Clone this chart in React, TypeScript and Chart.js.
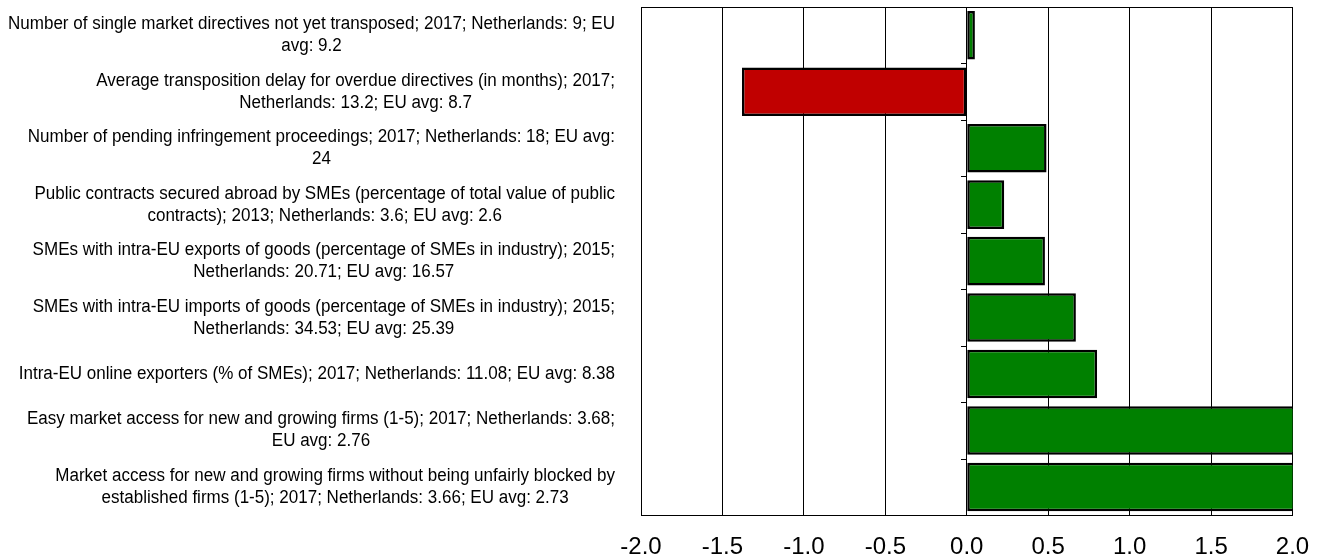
import React, { useEffect, useRef } from "react";
import { Chart, registerables } from "chart.js";

Chart.register(...registerables);

const categories: string[][] = [
  ["Number of single market directives not yet transposed; 2017; Netherlands: 9; EU", "avg: 9.2"],
  ["Average transposition delay for overdue directives (in months); 2017;", "Netherlands: 13.2; EU avg: 8.7"],
  ["Number of pending infringement proceedings; 2017; Netherlands: 18; EU avg:", "24"],
  ["Public contracts secured abroad by SMEs (percentage of total value of public", "contracts); 2013; Netherlands: 3.6; EU avg: 2.6"],
  ["SMEs with intra-EU exports of goods (percentage of SMEs in industry); 2015;", "Netherlands: 20.71; EU avg: 16.57"],
  ["SMEs with intra-EU imports of goods (percentage of SMEs in industry); 2015;", "Netherlands: 34.53; EU avg: 25.39"],
  ["Intra-EU online exporters (% of SMEs); 2017; Netherlands: 11.08; EU avg: 8.38"],
  ["Easy market access for new and growing firms (1-5); 2017; Netherlands: 3.68;", "EU avg: 2.76"],
  ["Market access for new and growing firms without being unfairly blocked by", "established firms (1-5); 2017; Netherlands: 3.66; EU avg: 2.73"],
];

const values: number[] = [0.05, -1.38, 0.49, 0.23, 0.48, 0.67, 0.8, 2.3, 2.3];

const xTickMin = -2;
const xTickMax = 2;
const xTickStep = 0.5;

const POS_COLOR = "#008000";
const NEG_COLOR = "#C00000";
const LABEL_FONT = '18px "Liberation Sans", Arial, sans-serif';
const LABEL_SCALE_X = 0.945;
const LABEL_LINE_H = 22;
const LABEL_GAP = 26;

const labelPlugin = {
  id: "catLabels",
  afterDraw(chart: any) {
    const { ctx, chartArea, scales } = chart;
    const y = scales.y;
    const x = scales.x;
    ctx.save();
    ctx.font = LABEL_FONT;
    ctx.fillStyle = "#000";
    ctx.textAlign = "center";
    ctx.textBaseline = "middle";
    const rightEdge = chartArea.left - LABEL_GAP;
    categories.forEach((lines, i) => {
      const cy = y.getPixelForValue(i);
      const w = Math.max(...lines.map((l) => ctx.measureText(l).width)) * LABEL_SCALE_X;
      const cx = rightEdge - w / 2;
      const start = cy - ((lines.length - 1) * LABEL_LINE_H) / 2;
      lines.forEach((l, j) => {
        ctx.save();
        ctx.translate(cx, start + j * LABEL_LINE_H);
        ctx.scale(LABEL_SCALE_X, 1);
        ctx.fillText(l, 0, 0);
        ctx.restore();
      });
    });
    ctx.strokeStyle = "#000";
    ctx.lineWidth = 1;
    ctx.beginPath();
    ctx.moveTo(chartArea.left, Math.round(chartArea.top) + 0.5);
    ctx.lineTo(chartArea.right, Math.round(chartArea.top) + 0.5);
    const x0 = Math.round(x.getPixelForValue(0));
    const half = (y.getPixelForValue(1) - y.getPixelForValue(0)) / 2;
    for (let i = 0; i <= categories.length; i++) {
      const ty = Math.round(y.getPixelForValue(i) - half) + 0.5;
      ctx.moveTo(x0 - 6, ty);
      ctx.lineTo(x0, ty);
    }
    ctx.stroke();
    ctx.restore();
  },
};

export default function App() {
  const ref = useRef<HTMLCanvasElement | null>(null);
  useEffect(() => {
    if (!ref.current) return;
    const chart = new Chart(ref.current, {
      type: "bar",
      data: {
        labels: categories.map((c) => c.join(" ")),
        datasets: [
          {
            data: values,
            backgroundColor: values.map((v) => (v < 0 ? NEG_COLOR : POS_COLOR)),
            borderColor: "#000",
            borderWidth: 2.5,
            borderSkipped: false,
            barPercentage: 0.86,
            categoryPercentage: 1,
          },
        ],
      },
      options: {
        indexAxis: "y",
        animation: false,
        responsive: true,
        maintainAspectRatio: false,
        layout: { padding: { left: 641, top: 7, right: 30.5, bottom: -22 } },
        plugins: { legend: { display: false }, tooltip: { enabled: false } },
        scales: {
          x: {
            min: xTickMin,
            max: xTickMax,
            afterFit: (scale: any) => {
              scale.paddingLeft = 0;
              scale.paddingRight = 0;
            },
            ticks: {
              stepSize: xTickStep,
              callback: (v: any) => Number(v).toFixed(1),
              color: "#000",
              font: { family: '"Liberation Sans", Arial, sans-serif', size: 24 },
              padding: 18,
              maxRotation: 0,
            },
            grid: { color: "#000", lineWidth: 1, drawTicks: false },
            border: { display: true, color: "#000", width: 1 },
          },
          y: {
            display: false,
          },
        },
      },
      plugins: [labelPlugin],
    });
    return () => chart.destroy();
  }, []);
  return (
    <div style={{ position: "fixed", left: 0, top: 0, width: 1323, height: 558 }}>
      <canvas ref={ref} />
    </div>
  );
}
